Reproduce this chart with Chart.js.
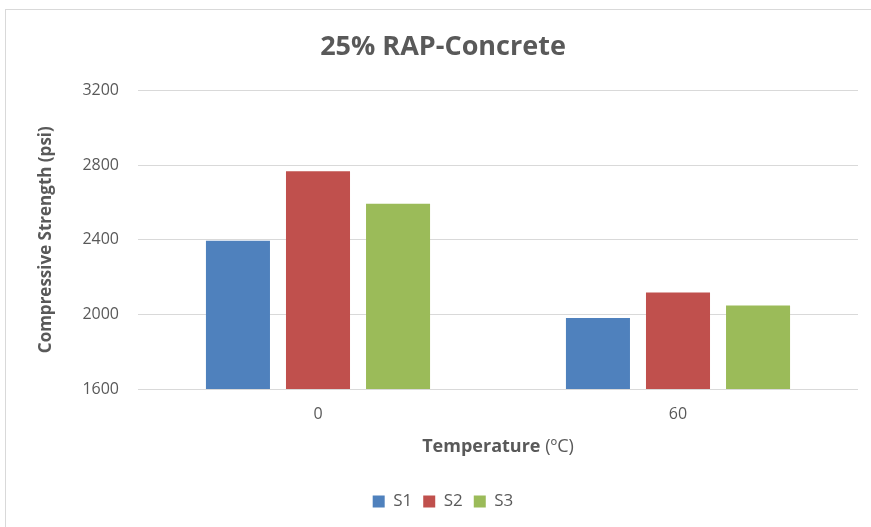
<!DOCTYPE html>
<html lang="en">
<head>
  <meta charset="UTF-8" />
  <title>25% RAP-Concrete</title>
  <script src="https://cdn.jsdelivr.net/npm/chart.js"></script>
  <style>
    body {
      margin: 0;
      background: #ffffff;
      width: 871px;
      height: 527px;
      overflow: hidden;
    }
    .frame {
      position: absolute;
      left: 5px;
      top: 9px;
      width: 866px;
      height: 518px;
      border-left: 1px solid #d9d9d9;
      border-top: 1px solid #d9d9d9;
      background: #ffffff;
    }
  </style>
</head>
<body>
  <div class="frame">
    <canvas id="chart" width="865" height="516"></canvas>
  </div>

  <script>
    const categories = ["0", "60"];
    const seriesNames = ["S1", "S2", "S3"];
    const s1 = [2395, 1980];
    const s2 = [2767, 2117];
    const s3 = [2592, 2047];
    const yTicks = [1600, 2000, 2400, 2800, 3200];
    const colors = ["#4f81bd", "#c0504d", "#9bbb59"];

    const textGray = "#595959";
    const fontFamily = "'Open Sans', sans-serif";

    // x title drawn by hand so "(ºC)" can be normal weight
    const xTitlePlugin = {
      id: "xTitle",
      afterDraw(chart) {
        const ctx = chart.ctx;
        const x = chart.scales.x;
        const cx = (chart.chartArea.left + chart.chartArea.right) / 2;
        const cy = x.top + 58;
        const bold = "bold 18px " + fontFamily;
        const normal = "18px " + fontFamily;
        const a = "Temperature ";
        const b = "(ºC)";
        ctx.save();
        ctx.fillStyle = textGray;
        ctx.textBaseline = "middle";
        ctx.font = bold;
        const wa = ctx.measureText(a).width;
        ctx.font = normal;
        const wb = ctx.measureText(b).width;
        let start = cx - (wa + wb) / 2;
        ctx.font = bold;
        ctx.fillText(a, start, cy);
        ctx.font = normal;
        ctx.fillText(b, start + wa, cy);
        ctx.restore();
      }
    };

    const ctx = document.getElementById("chart").getContext("2d");
    new Chart(ctx, {
      type: "bar",
      data: {
        labels: categories,
        datasets: [
          { label: seriesNames[0], data: s1, backgroundColor: colors[0] },
          { label: seriesNames[1], data: s2, backgroundColor: colors[1] },
          { label: seriesNames[2], data: s3, backgroundColor: colors[2] }
        ]
      },
      options: {
        responsive: false,
        animation: false,
        categoryPercentage: 0.667,
        barPercentage: 0.8,
        layout: {
          padding: { left: 22, right: 13, top: 0, bottom: 6 }
        },
        plugins: {
          title: {
            display: true,
            text: "25% RAP-Concrete",
            color: textGray,
            font: { family: fontFamily, size: 27, weight: "bold" },
            padding: { top: 21, bottom: 27 }
          },
          legend: {
            position: "bottom",
            labels: {
              color: textGray,
              font: { family: fontFamily, size: 17 },
              boxWidth: 12,
              boxHeight: 12,
              padding: 11
            }
          },
          tooltip: { enabled: false }
        },
        scales: {
          x: {
            afterFit(scale) {
              scale.height = 93;
            },
            grid: { display: false, drawTicks: false },
            border: { display: false },
            ticks: {
              color: textGray,
              font: { family: fontFamily, size: 16 },
              padding: 16
            }
          },
          y: {
            min: yTicks[0],
            max: yTicks[yTicks.length - 1],
            afterBuildTicks(scale) {
              scale.ticks = yTicks.map(v => ({ value: v }));
            },
            afterFit(scale) {
              scale.width = 110;
            },
            grid: { color: "#d9d9d9", drawTicks: false },
            border: { display: false },
            ticks: {
              color: textGray,
              font: { family: fontFamily, size: 16 },
              padding: 19,
              callback: v => String(v)
            },
            title: {
              display: true,
              text: "Compressive Strength (psi)",
              color: textGray,
              font: { family: fontFamily, size: 17, weight: "bold" },
              padding: { top: 8, bottom: 0 }
            }
          }
        }
      },
      plugins: [xTitlePlugin]
    });
  </script>
</body>
</html>
